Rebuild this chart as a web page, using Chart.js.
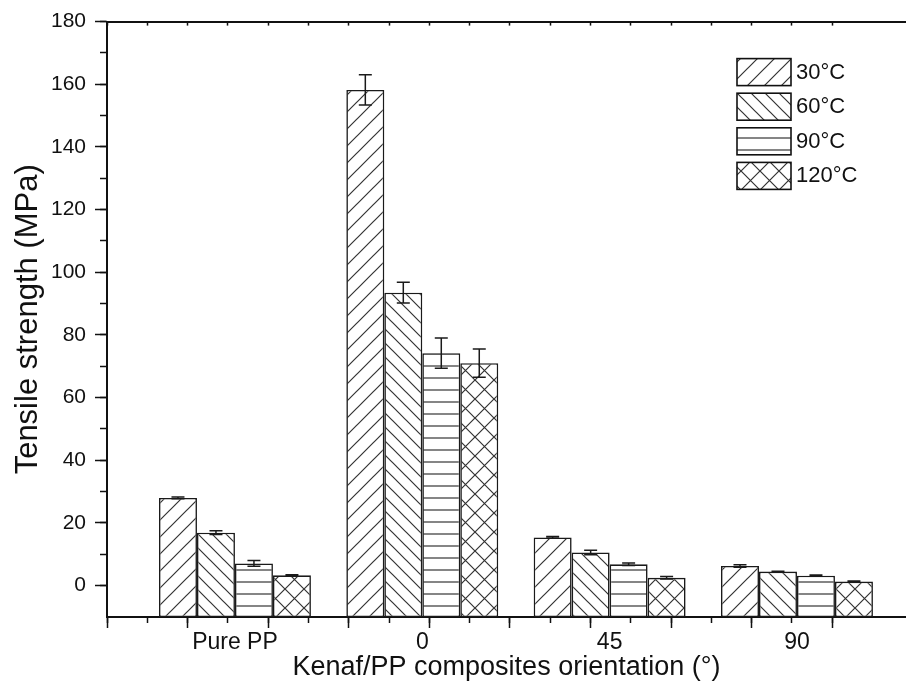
<!DOCTYPE html>
<html>
<head>
<meta charset="utf-8">
<script src="https://cdn.jsdelivr.net/npm/chart.js@4.4.1/dist/chart.umd.min.js"></script>
<style>
  html, body { margin: 0; padding: 0; background: #fff; }
</style>
</head>
<body>
<canvas id="chart" width="906" height="684"></canvas>
<script>
const categories = ['Pure PP', '0', '45', '90'];
const seriesLabels = ['30°C', '60°C', '90°C', '120°C'];
const strength30 = [28.0, 158.2, 15.4, 6.3];
const strength60 = [16.9, 93.5, 10.6, 4.5];
const strength90 = [7.1, 74.2, 6.8, 3.2];
const strength120 = [3.3, 71.0, 2.5, 1.3];
const error30 = [0.3, 4.8, 0.3, 0.4];
const error60 = [0.6, 3.3, 0.7, 0.1];
const error90 = [0.9, 4.8, 0.4, 0.2];
const error120 = [0.2, 4.5, 0.4, 0.2];
const yTickValues = [0, 20, 40, 60, 80, 100, 120, 140, 160, 180];
const yMin = -10;
const yMax = 180;

Chart.defaults.font.family = '"Liberation Sans", Arial, sans-serif';
Chart.defaults.color = '#111';

// small hatch tiles used as bar fills
function hatch(kind) {
  const s = { fwd: 17, back: 14, horiz: 12, cross: 19 }[kind];
  const c = document.createElement('canvas');
  c.width = s; c.height = s;
  const g = c.getContext('2d');
  g.fillStyle = '#fff';
  g.fillRect(0, 0, s, s);
  g.strokeStyle = '#333';
  g.lineWidth = 1.2;
  g.beginPath();
  if (kind === 'fwd' || kind === 'cross') {
    g.moveTo(0, s); g.lineTo(s, 0);
    g.moveTo(-1, 1); g.lineTo(1, -1);
    g.moveTo(s - 1, s + 1); g.lineTo(s + 1, s - 1);
  }
  if (kind === 'back' || kind === 'cross') {
    g.moveTo(0, 0); g.lineTo(s, s);
    g.moveTo(-1, s - 1); g.lineTo(1, s + 1);
    g.moveTo(s - 1, -1); g.lineTo(s + 1, 1);
  }
  if (kind === 'horiz') {
    g.moveTo(0, s / 2); g.lineTo(s, s / 2);
  }
  g.stroke();
  return g.createPattern(c, 'repeat');
}

const toPoints = vals => categories.map((c, i) => ({ x: i, y: vals[i] }));

const errorBars = {
  id: 'errorBars',
  afterDatasetsDraw(chart) {
    const { ctx } = chart;
    const y = chart.scales.y;
    ctx.save();
    ctx.strokeStyle = '#1a1a1a';
    ctx.lineWidth = 1.5;
    chart.data.datasets.forEach((ds, i) => {
      chart.getDatasetMeta(i).data.forEach((bar, j) => {
        const v = ds.data[j].y, e = ds.errors[j];
        const top = y.getPixelForValue(v + e), bot = y.getPixelForValue(v - e);
        ctx.beginPath();
        ctx.moveTo(bar.x, top); ctx.lineTo(bar.x, bot);
        ctx.moveTo(bar.x - 6.5, top); ctx.lineTo(bar.x + 6.5, top);
        ctx.moveTo(bar.x - 6.5, bot); ctx.lineTo(bar.x + 6.5, bot);
        ctx.stroke();
      });
    });
    ctx.restore();
  }
};

const boxLegend = {
  id: 'boxLegend',
  afterDraw(chart) {
    const { ctx, chartArea } = chart;
    const x = chartArea.right - 169, top = chartArea.top + 37;
    ctx.save();
    ctx.font = '22px "Liberation Sans", Arial, sans-serif';
    ctx.textBaseline = 'middle';
    chart.data.datasets.forEach((ds, i) => {
      const y = top + i * 34.6;
      ctx.fillStyle = ds.backgroundColor;
      ctx.fillRect(x, y, 54, 27);
      ctx.strokeStyle = '#111';
      ctx.lineWidth = 1.6;
      ctx.strokeRect(x, y, 54, 27);
      ctx.fillStyle = '#111';
      ctx.fillText(ds.label, x + 59, y + 14);
    });
    ctx.restore();
  }
};

const ctx = document.getElementById('chart').getContext('2d');
const fills = [hatch('fwd'), hatch('back'), hatch('horiz'), hatch('cross')];
const values = [strength30, strength60, strength90, strength120];
const errors = [error30, error60, error90, error120];

const tickAxis = (pos, step, len) => ({
  type: 'linear',
  position: pos,
  offset: false,
  min: 0,
  max: 19.83,
  afterBuildTicks: a => { a.ticks = a.ticks.filter(t => Number.isInteger(t.value)); },
  afterFit: a => { a.height = 0; },
  ticks: { display: false, stepSize: step },
  grid: { offset: false, drawOnChartArea: false, tickLength: len, tickWidth: 1.5, tickColor: '#111' },
  border: { display: pos === 'top', color: '#111', width: 2 }
});

new Chart(ctx, {
  type: 'bar',
  data: {
    datasets: seriesLabels.map((label, i) => ({
      label,
      data: toPoints(values[i]),
      errors: errors[i],
      xAxisID: 'x',
      yAxisID: 'y',
      base: yMin,
      backgroundColor: fills[i],
      borderColor: '#1a1a1a',
      borderWidth: 1.6,
      borderSkipped: false,
      barPercentage: 1,
      categoryPercentage: 0.811
    }))
  },
  options: {
    responsive: false,
    animation: false,
    layout: { padding: { top: 21, right: 0, bottom: 0, left: 0 } },
    plugins: { legend: { display: false }, tooltip: { enabled: false } },
    scales: {
      xMinor: tickAxis('bottom', 1, 6),
      xMajor: tickAxis('bottom', 2, 11),
      x: {
        type: 'linear',
        position: 'bottom',
        offset: false,
        min: -0.683,
        max: 3.582,
        afterBuildTicks: a => { a.ticks = categories.map((c, i) => ({ value: i })); },
        afterFit: a => { a.height = 67; },
        ticks: { callback: v => categories[v], font: { size: 23 }, padding: 12, maxRotation: 0, autoSkip: false },
        grid: { offset: false, drawOnChartArea: false, drawTicks: false },
        border: { color: '#111', width: 2 },
        title: { display: true, text: 'Kenaf/PP composites orientation (°)', font: { size: 27 }, padding: { top: 0, bottom: 0 } }
      },
      xTop: tickAxis('top', 1, -4),
      yMinor: {
        type: 'linear',
        position: 'left',
        min: yMin,
        max: yMax,
        afterBuildTicks: a => { a.ticks = a.ticks.filter(t => t.value > yMin); },
        afterFit: a => { a.width = 0; },
        ticks: { display: false, stepSize: 10 },
        grid: { drawOnChartArea: false, tickLength: 7, tickWidth: 1.5, tickColor: '#111' },
        border: { display: false }
      },
      y: {
        position: 'left',
        min: yMin,
        max: yMax,
        afterBuildTicks: a => { a.ticks = yTickValues.map(v => ({ value: v })); },
        afterFit: a => { a.width = 107; },
        ticks: { font: { size: 21 }, padding: 9 },
        grid: { drawOnChartArea: false, tickLength: 12, tickWidth: 1.5, tickColor: '#111' },
        border: { color: '#111', width: 2 },
        title: { display: true, text: 'Tensile strength (MPa)', font: { size: 31 }, padding: { top: 10, bottom: 0 } }
      }
    }
  },
  plugins: [errorBars, boxLegend]
});
</script>
</body>
</html>
